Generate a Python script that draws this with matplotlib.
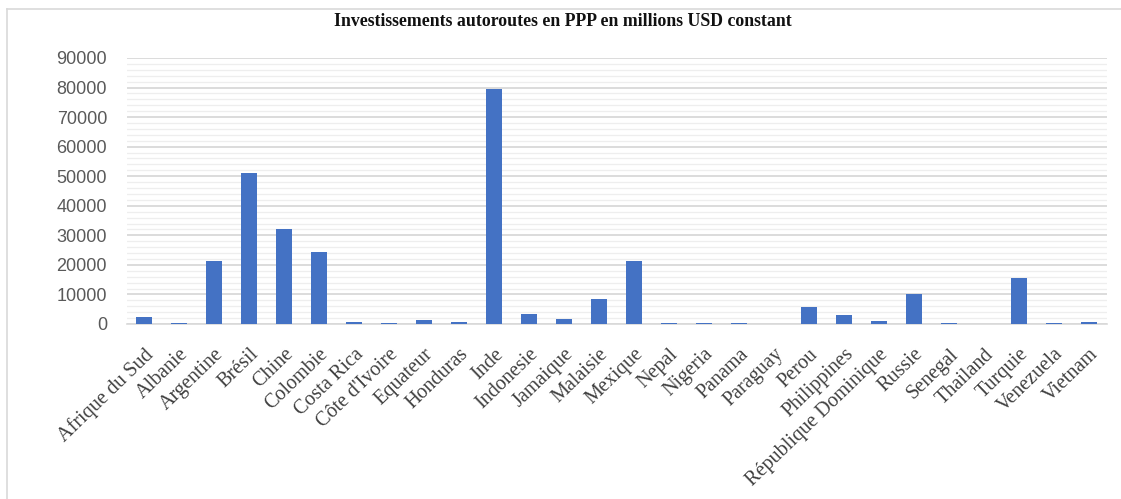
import numpy as np
import matplotlib
matplotlib.use("Agg")
import matplotlib.pyplot as plt
from matplotlib.lines import Line2D
from matplotlib.ticker import MultipleLocator

pays = ["Afrique du Sud", "Albanie", "Argentine", "Brésil", "Chine", "Colombie",
        "Costa Rica", "Côte d'Ivoire", "Equateur", "Honduras", "Inde", "Indonesie",
        "Jamaique", "Malaisie", "Mexique", "Nepal", "Nigeria", "Panama", "Paraguay",
        "Perou", "Philippines", "République Dominique", "Russie", "Senegal",
        "Thailand", "Turquie", "Venezuela", "Vietnam"]
invest = [2200, 200, 21400, 51000, 32200, 24400,
          600, 400, 1300, 600, 79500, 3300,
          1600, 8300, 21400, 200, 200, 500, 50,
          5600, 2900, 1000, 10100, 300,
          100, 15600, 200, 700]

BAR_COLOR = "#4472C4"
W, H = 1121, 499

fig = plt.figure(figsize=(W / 100, H / 100), dpi=100)
ax = fig.add_axes([126.5 / W, 1 - 324 / H, 980 / W, 266 / H])

x = np.arange(len(pays))
ax.bar(x, invest, width=0.48, color=BAR_COLOR, zorder=3)

ax.set_xlim(-0.5, len(pays) - 0.5)
ax.set_ylim(0, 90000)
ax.yaxis.set_major_locator(MultipleLocator(10000))
ax.yaxis.set_minor_locator(MultipleLocator(2000))
ax.grid(axis="y", which="major", color="#D9D9D9", linewidth=1.3, zorder=0)
ax.grid(axis="y", which="minor", color="#EEEEEE", linewidth=0.9, zorder=0)
ax.tick_params(axis="both", which="both", length=0)
ax.tick_params(axis="y", pad=14)

for s in ["top", "right", "left"]:
    ax.spines[s].set_visible(False)
ax.spines["bottom"].set_color("#D9D9D9")
ax.spines["bottom"].set_linewidth(1.2)

ax.set_yticks(np.arange(0, 90001, 10000))
ax.set_yticklabels([str(v) for v in range(0, 90001, 10000)],
                   fontfamily="Liberation Sans", fontsize=13, color="#595959")

ax.set_xticks(x)
ax.set_xticklabels(pays, rotation=44, ha="right", va="top",
                   rotation_mode="anchor", fontfamily="Liberation Serif",
                   fontsize=14.5, color="#404040")
ax.tick_params(axis="x", pad=15)

fig.text(563 / W, 1 - 21 / H,
         "Investissements autoroutes en PPP en millions USD constant",
         ha="center", va="center", fontfamily="Liberation Serif",
         fontweight="bold", fontsize=12.8, color="#111111")

# cadre du graphique
fig.add_artist(Line2D([7 / W, 7 / W], [0, 1 - 9 / H], color="#D9D9D9",
                      linewidth=1.2, transform=fig.transFigure))
fig.add_artist(Line2D([7 / W, 1], [1 - 9 / H, 1 - 9 / H], color="#D9D9D9",
                      linewidth=1.2, transform=fig.transFigure))

fig.savefig("out.png", dpi=100)
